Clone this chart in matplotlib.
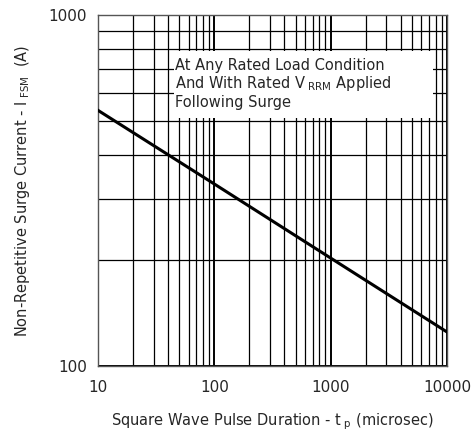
#!/usr/bin/env python3

import matplotlib
matplotlib.use('Agg')
import matplotlib.pyplot as plt
from matplotlib.patches import Rectangle
from matplotlib.ticker import LogLocator, NullFormatter, FixedLocator
import numpy as np

pulse_us = [10, 100, 1000, 10000]
surge_a = [535, 330, 203, 125]

xticks = [10, 100, 1000, 10000]
yticks = [100, 1000]

note_lines = ['At Any Rated Load Condition',
              r'And With Rated V$_{\ \mathregular{RRM}}$ Applied',
              'Following Surge']

plt.rcParams.update({
    'font.family': 'DejaVu Sans',
    'font.size': 10,
    'text.color': '#262626',
    'axes.labelcolor': '#262626',
    'xtick.color': '#262626',
    'ytick.color': '#262626',
    'mathtext.fontset': 'dejavusans',
})

fig = plt.figure(figsize=(4.72, 4.37), dpi=100)
ax = fig.add_axes([98/472, 1 - 366/437, 349/472, 351/437])

ax.set_xscale('log')
ax.set_yscale('log')
ax.set_xlim(10, 10000)
ax.set_ylim(100, 1000)

ax.xaxis.set_major_locator(FixedLocator(xticks))
ax.yaxis.set_major_locator(FixedLocator(yticks))
ax.xaxis.set_minor_locator(LogLocator(base=10, subs=np.arange(2, 10)))
ax.yaxis.set_minor_locator(LogLocator(base=10, subs=np.arange(2, 10)))
ax.xaxis.set_minor_formatter(NullFormatter())
ax.yaxis.set_minor_formatter(NullFormatter())
ax.set_xticklabels([str(v) for v in xticks], fontsize=11)
ax.set_yticklabels([str(v) for v in yticks], fontsize=11)
ax.tick_params(axis='x', which='both', length=0, pad=10)
ax.tick_params(axis='y', which='both', length=0, pad=8)

ax.grid(True, which='major', color='black', lw=1.4)
ax.grid(True, which='minor', color='black', lw=0.9)
ax.set_axisbelow(True)
for s in ax.spines.values():
    s.set_color('#555555')
    s.set_linewidth(1.0)

ax.plot(pulse_us, surge_a, color='black', lw=2.2, zorder=4)

# white box behind the note
ax.add_patch(Rectangle((45, 509), 7580 - 45, 789 - 509,
                       facecolor='white', edgecolor='none', zorder=3))
for i, line in enumerate(note_lines):
    ax.text(46, 720 * (0.885 ** i), line, fontsize=10.5, va='center',
            ha='left', zorder=5)

ax.set_xlabel(r'Square Wave Pulse Duration - t$_{\ \mathregular{p}}$ (microsec)',
              fontsize=10.5, labelpad=12)
ax.set_ylabel(r'Non-Repetitive Surge Current - I$_{\ \mathregular{FSM}}$  (A)',
              fontsize=10.5, labelpad=12)

fig.savefig('out.png', dpi=100)
